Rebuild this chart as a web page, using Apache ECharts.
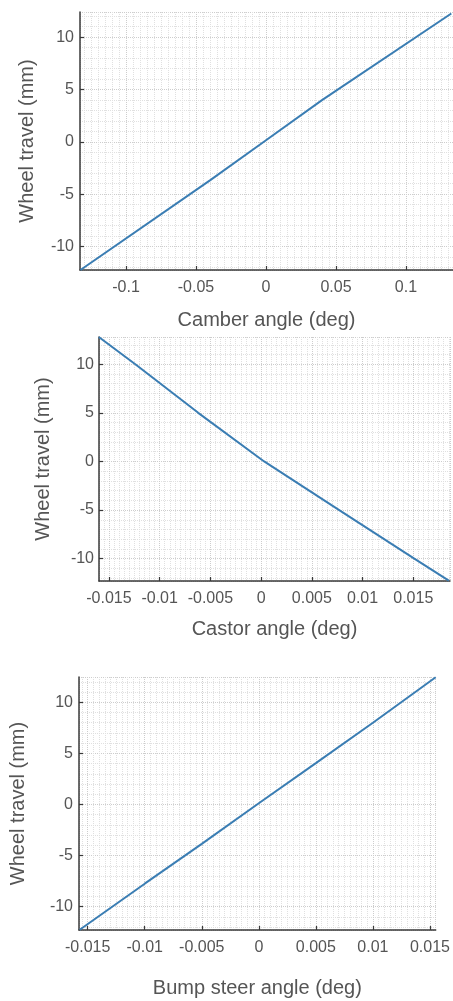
<!DOCTYPE html>
<html>
<head>
<meta charset="utf-8">
<script src="https://cdn.jsdelivr.net/npm/echarts@6/dist/echarts.min.js"></script>
<style>
html,body{margin:0;padding:0;background:#fff;}
#c{width:453px;height:1001px;}
</style>
</head>
<body>
<div id="c"></div>
<script>
// Data
var camberAngle  = [-0.1326, -0.0398, 0.0, 0.0400, 0.1324];
var camberTravel = [-12.25, -3.66, 0.15, 3.98, 12.26];

var castorAngle  = [-0.0160, -0.0124, -0.0062, 0.0003, 0.0077, 0.0151, 0.0185];
var castorTravel = [12.8, 10, 5, 0, -5, -10, -12.27];

var bumpAngle  = [-0.0157, -0.0100, -0.0050, 0.0, 0.0050, 0.0100, 0.0155];
var bumpTravel = [-12.25, -7.75, -3.85, 0.12, 4.05, 8.0, 12.45];

var xNames = ['Camber angle (deg)', 'Castor angle (deg)', 'Bump steer angle (deg)'];
var yName = 'Wheel travel (mm)';

function pairs(xs, ys){ return xs.map(function(x,i){ return [x, ys[i]]; }); }

var FONT = '"Liberation Sans", Arial, sans-serif';
var axisLineStyle = {color:'#3a3a3a', width:1.5};

function xAxis(gi, min, max, split, nameGap, minorN){
  return {
    type:'value', gridIndex:gi, min:min, max:max, splitNumber:split,
    name:xNames[gi], nameLocation:'middle', nameGap:nameGap,
    nameTextStyle:{fontFamily:FONT, fontSize:20, color:'#555'},
    axisLine:{show:true, onZero:false, lineStyle:axisLineStyle},
    axisTick:{show:true, inside:true, length:4, lineStyle:{color:'#3a3a3a', width:1.2}},
    axisLabel:{fontFamily:FONT, fontSize:16, color:'#555', margin:10, showMinLabel:false, showMaxLabel:false},
    splitLine:{show:true, lineStyle:{type:'dotted', color:'#cdcdcd', width:1}},
    minorTick:{show:false, splitNumber:minorN},
    minorSplitLine:{show:true, lineStyle:{type:'dotted', color:'#e0e0e0', width:1}}
  };
}
function yAxis(gi, min, max, nameGap, margin){
  return {
    type:'value', gridIndex:gi, min:min, max:max, splitNumber:5,
    name:yName, nameLocation:'middle', nameGap:nameGap,
    nameTextStyle:{fontFamily:FONT, fontSize:20, color:'#555'},
    axisLine:{show:true, onZero:false, lineStyle:axisLineStyle},
    axisTick:{show:true, inside:true, length:4, lineStyle:{color:'#3a3a3a', width:1.2}},
    axisLabel:{fontFamily:FONT, fontSize:16, color:'#555', margin:margin, showMinLabel:false, showMaxLabel:false},
    splitLine:{show:true, lineStyle:{type:'dotted', color:'#cdcdcd', width:1}},
    minorTick:{show:false, splitNumber:5},
    minorSplitLine:{show:true, lineStyle:{type:'dotted', color:'#e0e0e0', width:1}}
  };
}
function line(gi, data){
  return {
    type:'line', xAxisIndex:gi, yAxisIndex:gi, data:data, showSymbol:false, symbol:'none',
    lineStyle:{color:'#3a7db3', width:2}, smooth:false, animation:false
  };
}

var chart = echarts.init(document.getElementById('c'), null, {renderer:'canvas'});
chart.setOption({
  backgroundColor:'#fff',
  animation:false,
  grid:[
    {left:80, top:12, width:373, height:258},
    {left:99, top:337, width:351, height:244},
    {left:79, top:677, width:358, height:253}
  ],
  xAxis:[
    xAxis(0, -0.1329, 0.1336, 5, 40, 10),
    xAxis(1, -0.01598, 0.01862, 7, 38, 10),
    xAxis(2, -0.01576, 0.0155, 6, 48, 10)
  ],
  yAxis:[
    yAxis(0, -12.25, 12.4, 43, 6),
    yAxis(1, -12.3, 12.8, 46, 5),
    yAxis(2, -12.28, 12.47, 51, 6)
  ],
  series:[
    line(0, pairs(camberAngle, camberTravel)),
    line(1, pairs(castorAngle, castorTravel)),
    line(2, pairs(bumpAngle, bumpTravel))
  ]
});
</script>
</body>
</html>
